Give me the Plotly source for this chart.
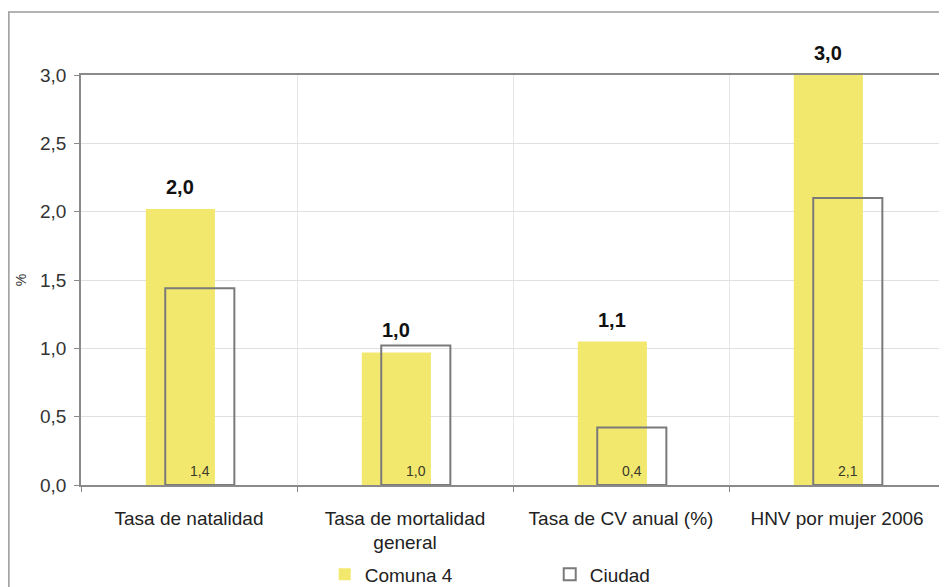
import plotly.graph_objects as go

categories = ["Tasa de natalidad", "Tasa de mortalidad<br>general", "Tasa de CV anual (%)", "HNV por mujer 2006"]
comuna4 = [2.02, 0.97, 1.05, 3.0]
ciudad = [1.44, 1.02, 0.42, 2.1]
series_names = ["Comuna 4", "Ciudad"]
y_title = "%"

FONT = "Arial, 'Liberation Sans', sans-serif"
YELLOW = "#F2E86E"
Y_OFF, Y_W = -0.2, 0.32
C_OFF, C_W = -0.11, 0.32


def fmt(v):
    return f"{v:.1f}".replace(".", ",")


fig = go.Figure()
fig.add_trace(go.Bar(
    x=categories, y=comuna4, name=series_names[0],
    marker=dict(color=YELLOW, line=dict(width=0)),
    offset=Y_OFF, width=Y_W,
))
fig.add_trace(go.Bar(
    x=categories, y=ciudad, name=series_names[1],
    marker=dict(color="rgba(0,0,0,0)", line=dict(color="#7a7a7a", width=2)),
    offset=C_OFF, width=C_W,
))

# bold value labels above the Comuna 4 bars
for i, v in enumerate(comuna4):
    fig.add_annotation(
        x=i + Y_OFF + Y_W / 2, y=v, xref="x", yref="y",
        text="<b>" + fmt(v) + "</b>",
        showarrow=False, yanchor="bottom", yshift=9,
        font=dict(family=FONT, size=20, color="#111111"),
    )
# small value labels at the base of the Ciudad bars
for i, v in enumerate(ciudad):
    fig.add_annotation(
        x=i + C_OFF + C_W / 2, y=0, xref="x", yref="y",
        text=fmt(v),
        showarrow=False, yanchor="bottom", yshift=4,
        font=dict(family=FONT, size=14, color="#3a3a2a"),
    )

fig.update_layout(
    width=939, height=579,
    margin=dict(l=73, r=2, t=67, b=102, autoexpand=False),
    barmode="overlay",
    separators=",.",
    paper_bgcolor="white", plot_bgcolor="white",
    font=dict(family=FONT, size=19, color="#222222"),
    showlegend=True,
    legend=dict(orientation="h", x=0.5425, xanchor="center", y=-0.218, yanchor="middle",
                font=dict(family=FONT, size=19, color="#222222"),
                entrywidth=180, entrywidthmode="pixels", bgcolor="rgba(0,0,0,0)"),
    xaxis=dict(
        type="category", tickson="boundaries", showgrid=True, gridcolor="#e6e6e6", gridwidth=1,
        showline=True, linecolor="#8a8a8a", linewidth=1.5, mirror=True,
        ticks="outside", ticklen=5, tickcolor="#8a8a8a",
        tickfont=dict(family=FONT, size=19, color="#222222"),
        ticklabelstandoff=15,
    ),
    yaxis=dict(
        range=[0, 3], dtick=0.5, tickformat=".1f",
        showgrid=True, gridcolor="#e0e0e0", gridwidth=1, zeroline=False,
        showline=True, linecolor="#8a8a8a", linewidth=1.5,
        ticks="outside", ticklen=5, tickcolor="#8a8a8a",
        tickfont=dict(family=FONT, size=19, color="#333333"),
        ticklabelstandoff=4,
        title=dict(text=y_title, font=dict(family=FONT, size=14, color="#333333"), standoff=10),
    ),
    shapes=[dict(type="rect", xref="paper", yref="paper",
                 x0=-0.0835, x1=1.2, y0=-0.6, y1=1.1537,
                 line=dict(color="#9a9a9a", width=1.5), fillcolor="rgba(0,0,0,0)", layer="below")],
)

fig.write_html("out.html")
